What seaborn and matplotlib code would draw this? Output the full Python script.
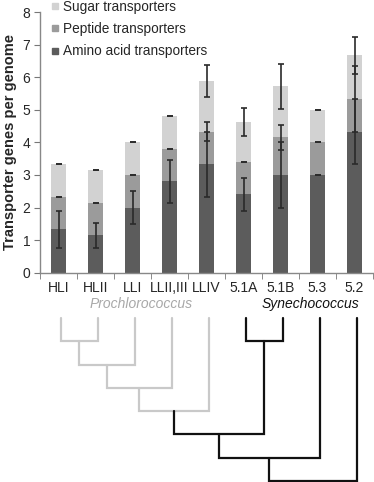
import numpy as np
import pandas as pd
import seaborn as sns
from matplotlib import pyplot as plt
from matplotlib.lines import Line2D
from matplotlib import transforms

clades = ['HLI', 'HLII', 'LLI', 'LLII,III', 'LLIV', '5.1A', '5.1B', '5.3', '5.2']
amino = [1.33, 1.15, 2.0, 2.8, 3.33, 2.4, 3.0, 3.0, 4.33]
peptide = [1.0, 1.0, 1.0, 1.0, 1.0, 1.0, 1.15, 1.0, 1.0]
sugar = [1.0, 1.0, 1.0, 1.0, 1.55, 1.22, 1.57, 1.0, 1.34]
amino_err = [0.57, 0.38, 0.5, 0.67, 1.0, 0.52, 1.0, 0.0, 1.0]
peptide_err = [0.0, 0.0, 0.0, 0.0, 0.28, 0.0, 0.37, 0.0, 1.0]
sugar_err = [0.0, 0.0, 0.0, 0.0, 0.48, 0.43, 0.69, 0.0, 0.57]

# tree merges: (left node, right node, level); leaves are 0-8, merge i becomes node 9+i
tree = [(0, 1, 1), (9, 2, 2), (10, 3, 3), (11, 4, 4), (5, 6, 1),
        (12, 13, 5), (14, 7, 6), (15, 8, 7)]
tree_colors = ['#c9c9c9'] * 4 + ['#111111'] * 4

c_sugar, c_pep, c_amino = '#d2d2d2', '#9b9b9b', '#5c5c5c'

df = pd.DataFrame({'clade': clades, 'amino': amino, 'peptide': peptide, 'sugar': sugar})
df['pep_top'] = df['amino'] + df['peptide']
df['sugar_top'] = df['pep_top'] + df['sugar']

sns.set_style('ticks')
plt.rcParams['font.family'] = ['Liberation Sans', 'DejaVu Sans']

W, H = 374, 482
fig = plt.figure(figsize=(W / 100, H / 100), dpi=100)
ax = fig.add_axes([40 / W, 1 - 272.7 / H, 333 / W, (272.7 - 12) / H])

# stacked bars by layering cumulative totals
for col, c in [('sugar_top', c_sugar), ('pep_top', c_pep), ('amino', c_amino)]:
    sns.barplot(data=df, x='clade', y=col, color=c, width=0.4, saturation=1,
                errorbar=None, linewidth=0, edgecolor='none', ax=ax)

xs = np.arange(len(clades))
for top, err in [(df['amino'], amino_err), (df['pep_top'], peptide_err),
                 (df['sugar_top'], sugar_err)]:
    ax.errorbar(xs, top, yerr=err, fmt='none', ecolor='#2a2a2a', elinewidth=1.2,
                capsize=2.3, capthick=1.2, zorder=5)

ax.set_ylim(0, 8)
ax.set_xlim(-0.5, len(clades) - 0.5)
ax.set_yticks(range(0, 9))
ax.set_xlabel('')
ax.set_ylabel('Transporter genes per genome', fontsize=10.5, fontweight='bold', labelpad=4)
ax.set_xticks(np.arange(-0.5, len(clades)), minor=True)
ax.tick_params(axis='x', which='major', length=0, pad=6, labelsize=10)
ax.tick_params(axis='x', which='minor', length=4, color='#777777', direction='out')
ax.tick_params(axis='y', length=4, color='#777777', pad=3, labelsize=10)
sns.despine(ax=ax)
for s in ['left', 'bottom']:
    ax.spines[s].set_color('#888888')
    ax.spines[s].set_linewidth(1.0)

trans = transforms.blended_transform_factory(ax.transData, ax.transAxes)
ax.text(2.23, -0.12, 'Prochlorococcus', transform=trans, ha='center', va='center',
        fontsize=10, style='italic', color='#a8a8a8')
ax.text(6.8, -0.12, 'Synechococcus', transform=trans, ha='center', va='center',
        fontsize=10, style='italic', color='#111111')

handles = [Line2D([], [], marker='s', ls='none', color=c, markersize=4.2)
           for c in [c_sugar, c_pep, c_amino]]
fig.legend(handles, ['Sugar transporters', 'Peptide transporters', 'Amino acid transporters'],
           loc='upper left', bbox_to_anchor=(49.5 / W, 1.0), frameon=False, fontsize=9.8,
           borderaxespad=0, borderpad=0, handlelength=0.75, handletextpad=0.25,
           labelspacing=0.6)

# dendrogram below the bars
dax = fig.add_axes([42 / W, 0, 333 / W, 170 / H])
dax.set_xlim(-0.5, len(clades) - 0.5)
dax.set_ylim(7.04, -0.26)
dax.axis('off')
node_x = list(xs.astype(float))
node_h = [0.0] * len(clades)
for (a, b, lvl), c in zip(tree, tree_colors):
    dax.plot([node_x[a], node_x[a], node_x[b], node_x[b]],
             [node_h[a], lvl, lvl, node_h[b]], color=c, lw=1.6,
             solid_joinstyle='miter', clip_on=False)
    node_x.append((node_x[a] + node_x[b]) / 2)
    node_h.append(lvl)

plt.savefig('out.png', dpi=100)
